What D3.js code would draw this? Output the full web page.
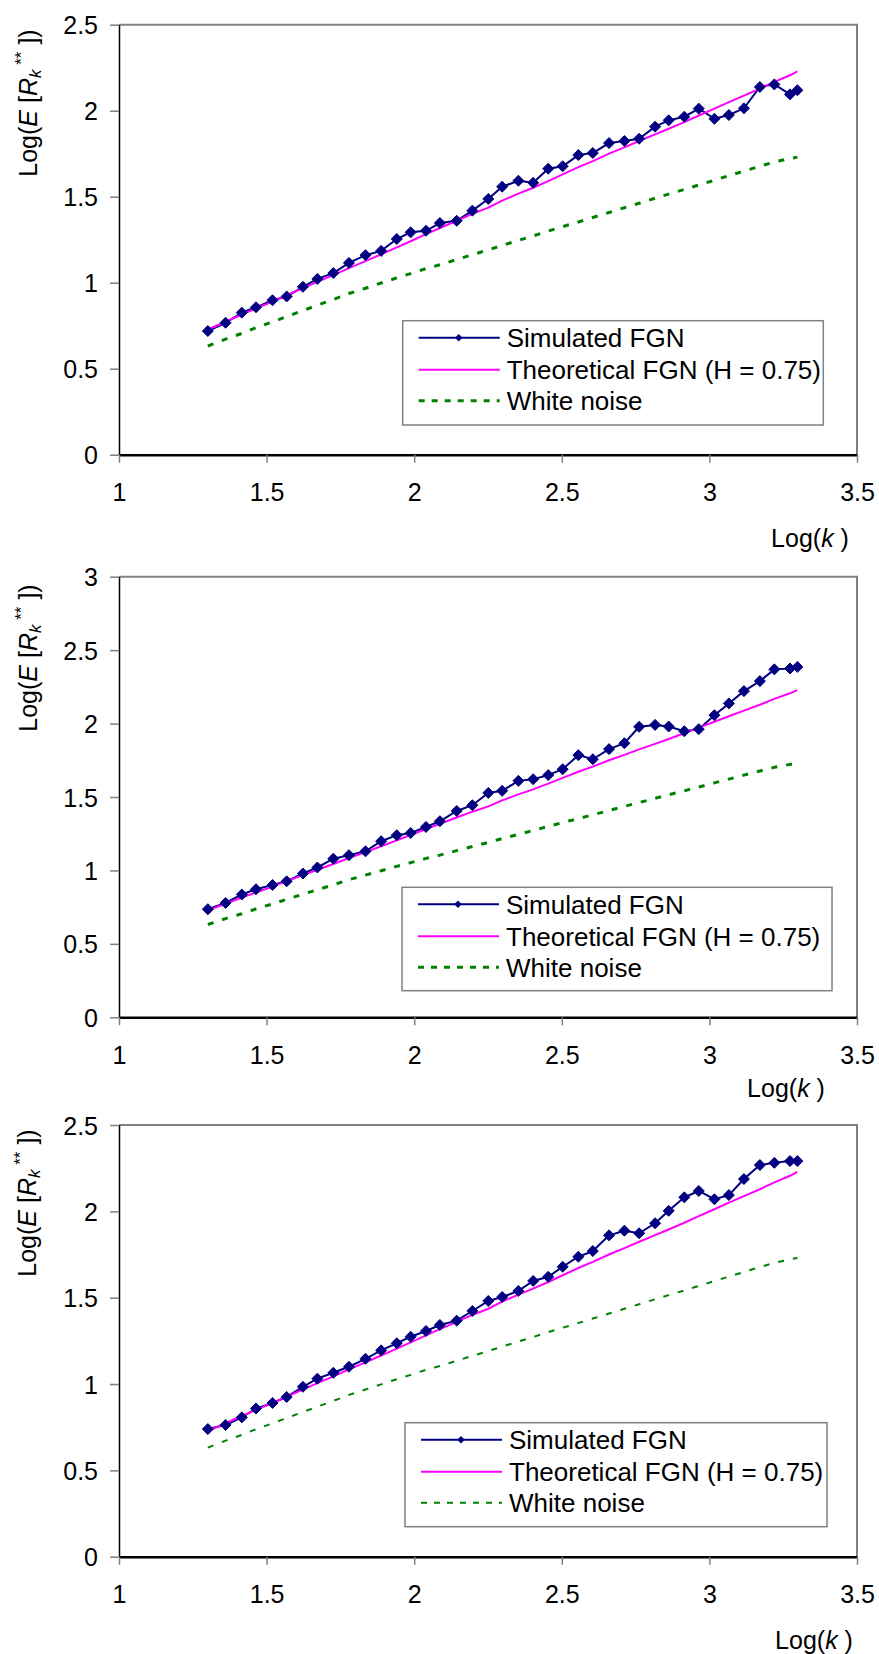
<!DOCTYPE html>
<html>
<head>
<meta charset="utf-8">
<script src="https://cdn.jsdelivr.net/npm/d3@7"></script>
<style>
  body { margin: 0; background: #fff; }
  svg { display: block; font-family: "Liberation Sans", Arial, sans-serif; }
</style>
</head>
<body>
<script>
// log(k) values shared by every series
var logK = [1.301, 1.361, 1.416, 1.464, 1.520, 1.568, 1.623, 1.672, 1.726, 1.779,
  1.835, 1.888, 1.941, 1.988, 2.040, 2.087, 2.144, 2.197, 2.251, 2.298,
  2.353, 2.403, 2.454, 2.503, 2.556, 2.605, 2.660, 2.712, 2.762, 2.816,
  2.862, 2.915, 2.964, 3.017, 3.066, 3.117, 3.171, 3.220, 3.273, 3.298];

var simulated1 = [0.719, 0.767, 0.826, 0.857, 0.898, 0.920, 0.976, 1.022, 1.056, 1.115,
  1.160, 1.185, 1.254, 1.293, 1.302, 1.347, 1.360, 1.419, 1.487, 1.558,
  1.593, 1.581, 1.663, 1.677, 1.742, 1.754, 1.812, 1.824, 1.837, 1.907,
  1.944, 1.965, 2.012, 1.953, 1.975, 2.014, 2.138, 2.153, 2.095, 2.119];

var simulated2 = [0.736, 0.779, 0.836, 0.872, 0.901, 0.926, 0.979, 1.020, 1.080, 1.104,
  1.130, 1.199, 1.240, 1.255, 1.296, 1.335, 1.405, 1.444, 1.528, 1.542,
  1.610, 1.621, 1.649, 1.689, 1.785, 1.757, 1.826, 1.866, 1.978, 1.991,
  1.980, 1.948, 1.962, 2.057, 2.137, 2.221, 2.289, 2.369, 2.375, 2.386];

var simulated3 = [0.739, 0.763, 0.807, 0.858, 0.890, 0.925, 0.984, 1.031, 1.065, 1.100,
  1.146, 1.195, 1.236, 1.274, 1.307, 1.342, 1.367, 1.423, 1.481, 1.504,
  1.539, 1.597, 1.621, 1.679, 1.737, 1.770, 1.861, 1.888, 1.873, 1.931,
  2.003, 2.081, 2.118, 2.070, 2.094, 2.187, 2.268, 2.281, 2.291, 2.291];

var theoretical = [0.728, 0.773, 0.815, 0.850, 0.890, 0.927, 0.968, 1.005, 1.044, 1.085,
  1.125, 1.165, 1.205, 1.241, 1.282, 1.318, 1.360, 1.400, 1.436, 1.477,
  1.518, 1.552, 1.591, 1.630, 1.672, 1.707, 1.750, 1.787, 1.824, 1.862,
  1.895, 1.934, 1.972, 2.012, 2.050, 2.088, 2.128, 2.168, 2.206, 2.228];

var whiteNoise = [0.632, 0.672, 0.705, 0.738, 0.772, 0.803, 0.838, 0.869, 0.902, 0.937,
  0.968, 0.998, 1.028, 1.053, 1.082, 1.104, 1.135, 1.163, 1.191, 1.217,
  1.246, 1.272, 1.300, 1.326, 1.353, 1.379, 1.408, 1.436, 1.462, 1.491,
  1.515, 1.542, 1.568, 1.596, 1.622, 1.649, 1.677, 1.702, 1.722, 1.730];

var xTicks = [1, 1.5, 2, 2.5, 3, 3.5];
var yTicks25 = [0, 0.5, 1, 1.5, 2, 2.5];
var yTicks3 = [0, 0.5, 1, 1.5, 2, 2.5, 3];
var legendNames = ['Simulated FGN', 'Theoretical FGN (H = 0.75)', 'White noise'];

var w = 879;
var h = 1654;
var left = 119;
var right = 857;

var svg = d3.select('body')
  .append('svg')
  .attr('width', w)
  .attr('height', h);

var panels = [
  { sim: simulated1, ymax: 2.5, yTicks: yTicks25, top: 24.7, bottom: 454.7,
    legend: [402.7, 320.7, 420.6, 104.3], xLab: [810, 538], yLab: [28, 103], dash: 3 },
  { sim: simulated2, ymax: 3, yTicks: yTicks3, top: 576.7, bottom: 1017.3,
    legend: [402, 887.3, 430, 103.4], xLab: [786, 1088], yLab: [28, 658], dash: 3 },
  { sim: simulated3, ymax: 2.5, yTicks: yTicks25, top: 1125, bottom: 1556.7,
    legend: [405, 1422.7, 422, 104], xLab: [814, 1640], yLab: [27, 1203], dash: 2 }
];

var diamond = 'M0,-5.5L5.5,0L0,5.5L-5.5,0Z';
var smallDiamond = 'M0,-3.8L3.8,0L0,3.8L-3.8,0Z';

panels.forEach(drawPanel);

function drawPanel(p) {
  var g = svg.append('g');

  var xScale = d3.scaleLinear()
    .domain([1, 3.5])
    .range([left, right]);

  var yScale = d3.scaleLinear()
    .domain([0, p.ymax])
    .range([p.bottom, p.top]);

  // frame: grey top and right
  g.append('path')
    .attr('d', 'M' + left + ',' + p.top + 'H' + right + 'V' + p.bottom)
    .attr('fill', 'none')
    .attr('stroke', '#808080')
    .attr('stroke-width', 2);

  var yAxis = d3.axisLeft(yScale)
    .tickValues(p.yTicks)
    .tickFormat(d => String(d))
    .tickSizeInner(9)
    .tickSizeOuter(0)
    .tickPadding(12);

  var xAxis = d3.axisBottom(xScale)
    .tickValues(xTicks)
    .tickFormat(d => String(d))
    .tickSizeInner(8)
    .tickSizeOuter(0)
    .tickPadding(21);

  var ya = g.append('g')
    .attr('transform', 'translate(' + left + ',0)')
    .call(yAxis);
  ya.select('.domain').attr('stroke', '#000').attr('stroke-width', 1.5);
  ya.selectAll('.tick line').attr('stroke', '#808080').attr('stroke-width', 1.5);
  ya.selectAll('.tick text')
    .attr('font-size', 25)
    .attr('font-family', '"Liberation Sans", Arial, sans-serif')
    .attr('fill', '#000')
    .attr('dy', '0.36em');

  var xa = g.append('g')
    .attr('transform', 'translate(0,' + p.bottom + ')')
    .call(xAxis);
  xa.select('.domain').attr('stroke', '#000').attr('stroke-width', 2.5);
  xa.selectAll('.tick line').attr('stroke', '#808080').attr('stroke-width', 1.5);
  xa.selectAll('.tick text')
    .attr('font-size', 25)
    .attr('font-family', '"Liberation Sans", Arial, sans-serif')
    .attr('fill', '#000');

  var line = d3.line()
    .x((d, i) => xScale(logK[i]))
    .y(d => yScale(d));

  g.append('path')
    .attr('d', line(p.sim))
    .attr('fill', 'none')
    .attr('stroke', '#000080')
    .attr('stroke-width', 2);

  g.append('path')
    .attr('d', line(theoretical))
    .attr('fill', 'none')
    .attr('stroke', '#FF00FF')
    .attr('stroke-width', 2);

  g.append('path')
    .attr('d', line(whiteNoise))
    .attr('fill', 'none')
    .attr('stroke', '#008000')
    .attr('stroke-width', p.dash)
    .attr('stroke-dasharray', '6,9');

  g.selectAll('.marker')
    .data(p.sim)
    .enter()
    .append('path')
    .attr('class', 'marker')
    .attr('d', diamond)
    .attr('transform', (d, i) => 'translate(' + xScale(logK[i]) + ',' + yScale(d) + ')')
    .attr('fill', '#000080')
    .attr('stroke', '#000080')
    .attr('stroke-width', 1);

  // legend
  var lg = g.append('g')
    .attr('transform', 'translate(' + p.legend[0] + ',' + p.legend[1] + ')');

  lg.append('rect')
    .attr('width', p.legend[2])
    .attr('height', p.legend[3])
    .attr('fill', '#fff')
    .attr('stroke', '#808080')
    .attr('stroke-width', 1.5);

  var rows = [17, 49, 80];
  var styles = [
    { c: '#000080', wd: 2, da: null },
    { c: '#FF00FF', wd: 2, da: null },
    { c: '#008000', wd: p.dash, da: '6,7' }
  ];

  legendNames.forEach(function (name, i) {
    lg.append('line')
      .attr('x1', 16).attr('x2', 97)
      .attr('y1', rows[i]).attr('y2', rows[i])
      .attr('stroke', styles[i].c)
      .attr('stroke-width', styles[i].wd)
      .attr('stroke-dasharray', styles[i].da);
    if (i === 0) {
      lg.append('path')
        .attr('d', smallDiamond)
        .attr('transform', 'translate(56,' + rows[i] + ')')
        .attr('fill', '#000080');
    }
    lg.append('text')
      .attr('x', 104)
      .attr('y', rows[i])
      .attr('dy', '0.36em')
      .attr('font-size', 26)
      .text(name);
  });

  // x label
  var xl = g.append('text')
    .attr('x', p.xLab[0])
    .attr('y', p.xLab[1])
    .attr('dy', '0.36em')
    .attr('text-anchor', 'middle')
    .attr('font-size', 25);
  xl.append('tspan').text('Log(');
  xl.append('tspan').attr('font-style', 'italic').text('k');
  xl.append('tspan').text(' )');

  // y label
  var yl = g.append('text')
    .attr('transform', 'translate(' + p.yLab[0] + ',' + p.yLab[1] + ') rotate(-90)')
    .attr('dy', '0.36em')
    .attr('text-anchor', 'middle')
    .attr('font-size', 25);
  yl.append('tspan').text('Log(');
  yl.append('tspan').attr('font-style', 'italic').text('E');
  yl.append('tspan').text(' [');
  yl.append('tspan').attr('font-style', 'italic').text('R');
  yl.append('tspan').attr('font-style', 'italic').attr('font-size', 17).attr('dy', 4).text('k');
  yl.append('tspan').attr('font-size', 17).attr('dy', -14).text(' **');
  yl.append('tspan').attr('dy', 10).text(' ])');
}
</script>
</body>
</html>
